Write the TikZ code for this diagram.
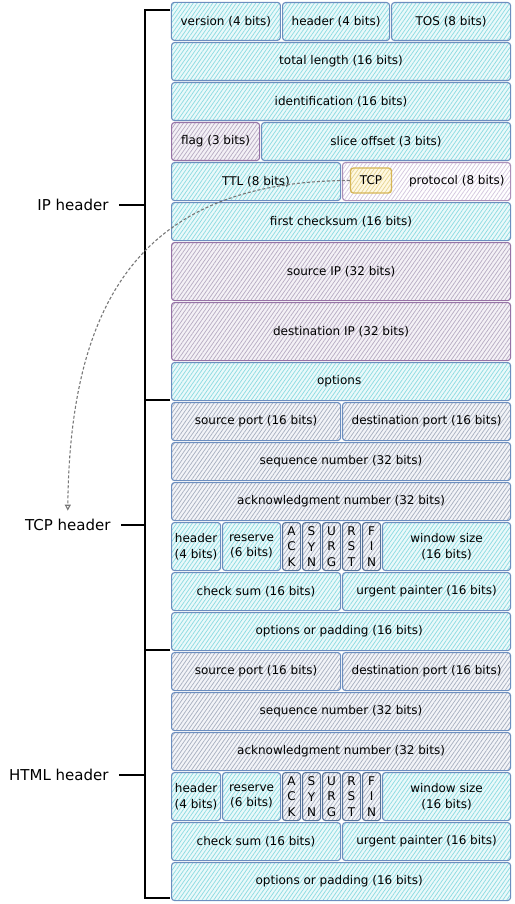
\documentclass[tikz,border=0pt]{standalone}
\usepackage{fontspec}
\setmainfont{DejaVu Sans}
\usepackage{xcolor}
\usetikzlibrary{patterns.meta,arrows.meta}
\definecolor{cellblue}{HTML}{6C8EBF}
\definecolor{cellpurple}{HTML}{9673A6}
\definecolor{cyanhatch}{HTML}{8EDCE2}
\definecolor{cyanbg}{HTML}{EAF9FA}
\definecolor{grayhatch}{HTML}{A9B1C1}
\definecolor{graybg}{HTML}{F3F4F8}
\definecolor{purplehatch}{HTML}{B8ADC4}
\definecolor{purplebg}{HTML}{F4F1F6}
\definecolor{lilachatch}{HTML}{D4C8DF}
\definecolor{tcpgold}{HTML}{D6B656}
\definecolor{tcphatch}{HTML}{E6D594}
\definecolor{tcpbg}{HTML}{FFF9E2}
\definecolor{linkgray}{HTML}{777777}

\tikzset{
  cell/.style={rounded corners=3pt,inner sep=0pt,anchor=north west,line width=1.1pt,
    align=center,font=\fontsize{12}{15.5}\selectfont},
  hatched/.style={pattern={Lines[angle=55,distance=3.2pt,line width=0.75pt]}},
  cyancell/.style={cell,hatched,draw=cellblue,preaction={fill=cyanbg},pattern color=cyanhatch},
  graycell/.style={cell,hatched,draw=cellblue,preaction={fill=graybg},pattern color=grayhatch},
  purplecell/.style={cell,hatched,draw=cellpurple,preaction={fill=purplebg},pattern color=purplehatch},
  lilaccell/.style={cell,hatched,draw=cellpurple!80,preaction={fill=white},pattern color=lilachatch},
  flagcell/.style={graycell,draw=cellblue!80!black},
  tcptag/.style={rounded corners=3pt,hatched,draw=tcpgold,line width=1.3pt,preaction={fill=tcpbg},
    pattern color=tcphatch,minimum width=41,minimum height=25,inner sep=0pt,font=\fontsize{12}{14}\selectfont},
  headlabel/.style={anchor=east,font=\fontsize{15}{18}\selectfont},
  brace/.style={line width=1.6pt,black},
  linkarrow/.style={linkgray,line width=1.1pt,dash pattern=on 3pt off 2pt,
    -{Triangle[open,length=6pt,width=6pt]}}
}

\begin{document}
\begin{tikzpicture}[x=1pt,y=-1pt]
  \useasboundingbox (0,0) rectangle (514,904);

  \foreach \nm/\x/\y/\w/\h/\kind/\txt in {
    ver/171/2/109/38/cyancell/{version (4 bits)},
    hdr/282/2/107/38/cyancell/{header (4 bits)},
    tos/391/2/119/38/cyancell/{TOS (8 bits)},
    len/171/42/339/38/cyancell/{total length (16 bits)},
    ident/171/82/339/38/cyancell/{identification (16 bits)},
    flag/171/122/88/38/purplecell/{flag (3 bits)},
    offset/261/122/249/38/cyancell/{slice offset (3 bits)},
    ttl/171/162/169/38/cyancell/{TTL (8 bits)},
    csum/171/202/339/38/cyancell/{first checksum (16 bits)},
    srcip/171/242/339/58/purplecell/{source IP (32 bits)},
    dstip/171/302/339/58/purplecell/{destination IP (32 bits)},
    opts/171/362/339/38/cyancell/{options}
  } {
    \node[\kind,minimum width=\w,minimum height=\h] (\nm) at (\x,\y) {\txt};
  }
  \node[lilaccell,minimum width=168,minimum height=38,
    label={[anchor=east,xshift=-3pt,font=\fontsize{12}{15}\selectfont]east:protocol (8 bits)}]
    (proto) at (342,162) {};
  \node[tcptag] (tcpbox) at (371,180.5) {TCP};

  \foreach \blk/\oy in {tcp/400,html/650} {
    \foreach \nm/\x/\y/\w/\h/\kind/\txt in {
      sport/171/2/169/38/graycell/{source port (16 bits)},
      dport/342/2/168/38/graycell/{destination port (16 bits)},
      seq/171/42/339/38/graycell/{sequence number (32 bits)},
      ack/171/82/339/38/graycell/{acknowledgment number (32 bits)},
      hlen/171/122/49/48/cyancell/{header\\(4 bits)},
      rsv/222/122/58/48/cyancell/{reserve\\(6 bits)},
      fack/282/122/18/48/flagcell/{A\\C\\K},
      fsyn/302/122/18/48/flagcell/{S\\Y\\N},
      furg/322/122/18/48/flagcell/{U\\R\\G},
      frst/342/122/18/48/flagcell/{R\\S\\T},
      ffin/362/122/18/48/flagcell/{F\\I\\N},
      win/382/122/128/48/cyancell/{window size\\(16 bits)},
      chk/171/172/169/38/cyancell/{check sum (16 bits)},
      urg/342/172/168/38/cyancell/{urgent painter (16 bits)},
      pad/171/212/339/38/cyancell/{options or padding (16 bits)}
    } {
      \node[\kind,minimum width=\w,minimum height=\h] (\blk-\nm) at (\x,\oy+\y) {\txt};
    }
  }

  \coordinate (bar) at (145,0);
  \coordinate (iptop) at (170,10);
  \coordinate (ipend) at (170,400);
  \coordinate (tcpend) at (170,650);
  \coordinate (htmlend) at (170,898);
  \draw[brace] (iptop) -- ++(-25,0) |- (htmlend);
  \draw[brace] (ipend) -- ++(-25,0);
  \draw[brace] (tcpend) -- ++(-25,0);

  \node[headlabel] (iplab) at (112,205) {IP header};
  \node[headlabel] (tcplab) at (114,525) {TCP header};
  \node[headlabel] (htmllab) at (112,775) {HTML header};
  \foreach \lab in {iplab,tcplab,htmllab}
    \draw[brace] ([xshift=7pt]\lab.east) -- (\lab.east -| bar);

  \draw[linkarrow] (tcpbox.west) .. controls (150,181) and (70,290) .. ([yshift=5pt]tcplab.north);
\end{tikzpicture}
\end{document}
